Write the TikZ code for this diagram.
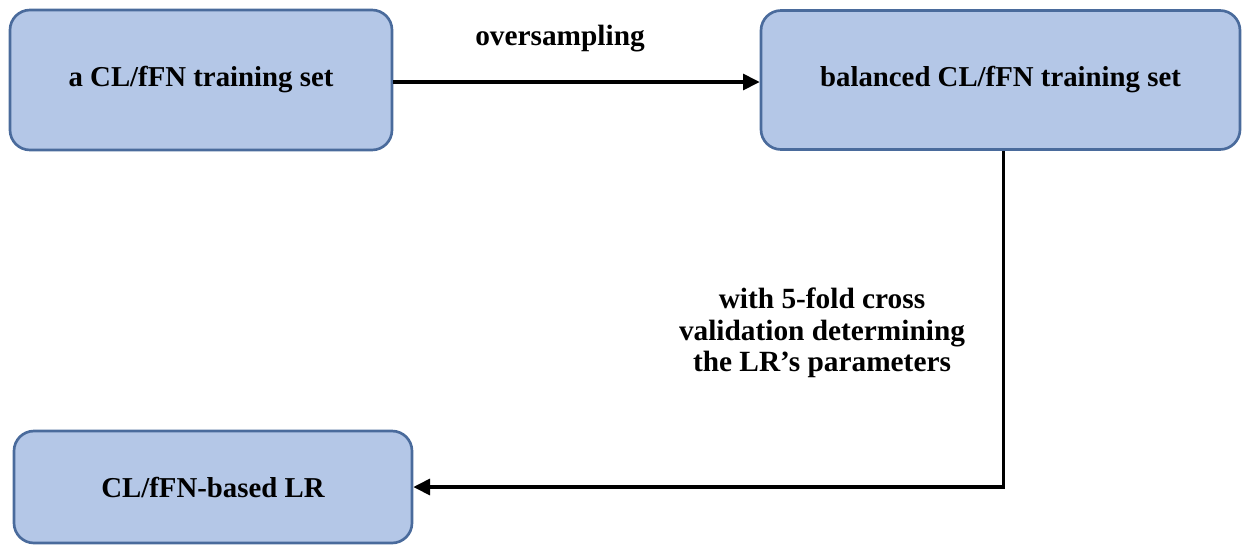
\documentclass[tikz,border=0pt]{standalone}
\usepackage{fontspec}
\setmainfont{Liberation Serif}
\usetikzlibrary{arrows.meta}
\definecolor{boxfill}{HTML}{B4C7E7}
\definecolor{boxline}{HTML}{4A6B9C}
\tikzset{
  stepbox/.style={draw=boxline, fill=boxfill, line width=2pt, rounded corners=15pt,
    font=\fontsize{21.6}{26}\selectfont\bfseries, align=center},
  flow/.style={line width=2.4pt, -{Triangle[length=12.5pt,width=12pt]}},
  lbl/.style={font=\fontsize{22}{23.5}\selectfont\bfseries, align=center}
}
\begin{document}
\begin{tikzpicture}[x=0.75pt,y=-0.75pt]
  \useasboundingbox (0,0) rectangle (1242,544);
  \node[stepbox, minimum width=286.5pt, minimum height=105pt] (train) at (201,80) {a CL/fFN training set};
  \node[stepbox, minimum width=359.25pt, minimum height=104.25pt] (bal) at (1000.5,80) {balanced CL/fFN training set};
  \node[stepbox, minimum width=298.5pt, minimum height=84pt] (lr) at (213,487) {CL/fFN-based LR};
  \draw[flow] ([yshift=-1.5pt]train.east) -- ([yshift=-1.5pt]bal.west);
  \node[lbl] (over) at (560,39) {oversampling};
  \draw[flow] ([xshift=2pt]bal.south) |- (lr.east);
  \node[lbl] (cv) at (822,333) {with 5-fold cross\\validation determining\\the LR’s parameters};
\end{tikzpicture}
\end{document}
